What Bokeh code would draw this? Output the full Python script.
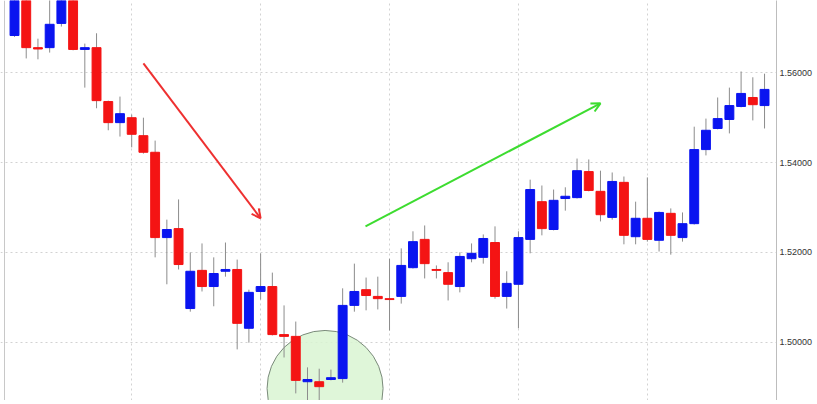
import numpy as np
from bokeh.plotting import figure
from bokeh.models import (ColumnDataSource, FixedTicker, PrintfTickFormatter, Range1d,
                          Arrow, OpenHead, Span)
from bokeh.embed import file_html
from bokeh.resources import INLINE

opens = [1.5683, 1.5765, 1.5656, 1.5656, 1.5710, 1.5780, 1.5652, 1.5656, 1.5536, 1.5489,
         1.5500, 1.5460, 1.5423, 1.5233, 1.5253, 1.5075, 1.5160, 1.5124, 1.5158, 1.5162,
         1.5031, 1.5113, 1.5124, 1.5017, 1.5013, 1.4912, 1.4912, 1.4917, 1.4919, 1.5082,
         1.5117, 1.5102, 1.5097, 1.5102, 1.5166, 1.5229, 1.5162, 1.5155, 1.5124, 1.5186,
         1.5189, 1.5222, 1.5102, 1.5129, 1.5229, 1.5313, 1.5251, 1.5320, 1.5322, 1.5380,
         1.5336, 1.5278, 1.5356, 1.5235, 1.5276, 1.5227, 1.5287, 1.5233, 1.5264, 1.5429,
         1.5476, 1.5496, 1.5525, 1.5545, 1.5527]
closes = [1.5770, 1.5656, 1.5653, 1.5708, 1.5775, 1.5652, 1.5656, 1.5538, 1.5489, 1.5509,
          1.5463, 1.5423, 1.5233, 1.5251, 1.5173, 1.5158, 1.5124, 1.5153, 1.5162, 1.5042,
          1.5111, 1.5124, 1.5017, 1.5013, 1.4915, 1.4917, 1.4901, 1.4921, 1.5082, 1.5113,
          1.5104, 1.5097, 1.5095, 1.5171, 1.5224, 1.5175, 1.5160, 1.5129, 1.5191, 1.5198,
          1.5231, 1.5102, 1.5131, 1.5233, 1.5340, 1.5253, 1.5316, 1.5325, 1.5382, 1.5338,
          1.5284, 1.5358, 1.5238, 1.5276, 1.5229, 1.5289, 1.5238, 1.5264, 1.5429, 1.5472,
          1.5498, 1.5527, 1.5554, 1.5529, 1.5563]
highs = [1.5785, 1.5780, 1.5676, 1.5775, 1.5790, 1.5795, 1.5665, 1.5688, 1.5538, 1.5547,
         1.5507, 1.5500, 1.5449, 1.5273, 1.5318, 1.5200, 1.5220, 1.5189, 1.5222, 1.5184,
         1.5117, 1.5198, 1.5155, 1.5082, 1.5046, 1.4944, 1.4941, 1.4939, 1.5120, 1.5175,
         1.5144, 1.5146, 1.5186, 1.5209, 1.5247, 1.5260, 1.5171, 1.5178, 1.5200, 1.5220,
         1.5240, 1.5258, 1.5158, 1.5247, 1.5362, 1.5349, 1.5340, 1.5345, 1.5409, 1.5407,
         1.5382, 1.5378, 1.5369, 1.5313, 1.5367, 1.5291, 1.5298, 1.5289, 1.5480, 1.5498,
         1.5545, 1.5567, 1.5603, 1.5590, 1.5598]
lows = [1.5680, 1.5632, 1.5630, 1.5645, 1.5703, 1.5650, 1.5567, 1.5521, 1.5472, 1.5458,
        1.5434, 1.5420, 1.5189, 1.5129, 1.5162, 1.5068, 1.5113, 1.5080, 1.5146, 1.4984,
        1.4999, 1.5095, 1.5015, 1.4966, 1.4886, 1.4870, 1.4859, 1.4915, 1.4910, 1.5068,
        1.5071, 1.5073, 1.5026, 1.5086, 1.5164, 1.5142, 1.5142, 1.5093, 1.5111, 1.5178,
        1.5175, 1.5097, 1.5075, 1.5031, 1.5198, 1.5238, 1.5249, 1.5293, 1.5320, 1.5336,
        1.5269, 1.5273, 1.5218, 1.5218, 1.5224, 1.5202, 1.5195, 1.5224, 1.5262, 1.5416,
        1.5474, 1.5465, 1.5523, 1.5494, 1.5476]

price_ticks = [1.50, 1.52, 1.54, 1.56]
vgrid_bars = [10, 21, 32, 43, 54]

# annotations: (bar index, price)
down_arrow = [(11.0, 1.5621), (21.0, 1.5276)]
up_arrow = [(29.95, 1.5258), (50.0, 1.5532)]
bottom_circle = (26.5, 1.4897)

UP = "#0a14f0"
DOWN = "#f41414"

idx = np.arange(len(opens))
o = np.array(opens); c = np.array(closes)
src = ColumnDataSource(dict(
    x=idx, top=np.maximum(o, c), bottom=np.minimum(o, c),
    high=highs, low=lows,
    color=[UP if cc >= oo else DOWN for oo, cc in zip(opens, closes)],
))

p = figure(frame_width=776, frame_height=400, output_backend="svg", toolbar_location=None,
           x_range=Range1d(-1.195, 65.02), y_range=Range1d(1.48702, 1.57610),
           y_axis_location="right", x_axis_location=None,
           min_border_left=0, min_border_top=0, min_border_bottom=0, min_border_right=0)
p.outline_line_color = None
p.background_fill_color = "white"
p.border_fill_color = "white"

p.xgrid.ticker = FixedTicker(ticks=vgrid_bars)
p.xgrid.grid_line_color = "#d2d2d2"
p.xgrid.grid_line_dash = "2 3"
p.ygrid.grid_line_color = "#d2d2d2"
p.ygrid.grid_line_dash = "2 3"

ax = p.yaxis[0]
ax.ticker = FixedTicker(ticks=price_ticks)
ax.formatter = PrintfTickFormatter(format="%.5f")
ax.major_tick_line_color = None
ax.minor_tick_line_color = None
ax.major_tick_out = 0
ax.major_label_standoff = 3
ax.axis_line_color = "#bdbdbd"
ax.major_label_text_font = "Liberation Sans"
ax.major_label_text_font_size = "9px"
ax.major_label_text_color = "#333333"

p.add_layout(Span(location=-0.853, dimension="height", line_color="#c8c8c8", line_width=1))

# highlight circle
p.scatter([bottom_circle[0]], [bottom_circle[1]], size=116, marker="circle",
          fill_color="#d9f5d2", fill_alpha=0.85, line_color="#7a8a7a", line_width=1)

p.segment(x0="x", y0="high", x1="x", y1="low", source=src, line_color="#8c8c8c", line_width=1)
p.vbar(x="x", width=0.76, top="top", bottom="bottom", source=src,
       fill_color="color", line_color="color", line_width=1)

p.add_layout(Arrow(end=OpenHead(size=9, line_color="#ee3030", line_width=2),
                   x_start=down_arrow[0][0], y_start=down_arrow[0][1],
                   x_end=down_arrow[1][0], y_end=down_arrow[1][1],
                   line_color="#ee3030", line_width=2))
p.add_layout(Arrow(end=OpenHead(size=9, line_color="#3ddc30", line_width=2),
                   x_start=up_arrow[0][0], y_start=up_arrow[0][1],
                   x_end=up_arrow[1][0], y_end=up_arrow[1][1],
                   line_color="#3ddc30", line_width=2))

open("out.html", "w").write(file_html(p, INLINE))
